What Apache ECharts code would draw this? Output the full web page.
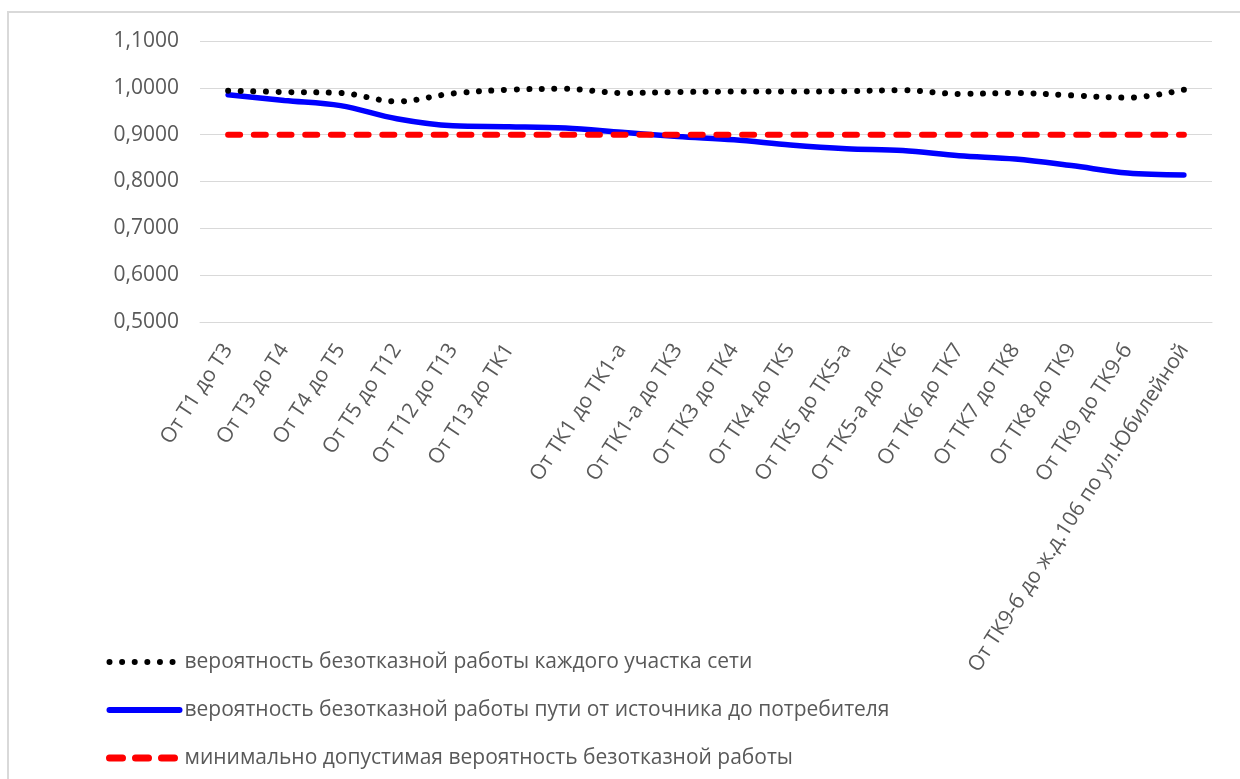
<!DOCTYPE html>
<html>
<head>
<meta charset="utf-8">
<script src="https://cdn.jsdelivr.net/npm/echarts@6/dist/echarts.min.js"></script>
<style>
  html, body { margin: 0; padding: 0; background: #fff; }
  #frame { position: absolute; left: 7px; top: 11px; width: 1240px; height: 780px;
           border-top: 2px solid #d9d9d9; border-left: 2px solid #d9d9d9; }
  #chart { position: absolute; left: 0; top: 0; width: 1240px; height: 779px; }
</style>
</head>
<body>
<div id="frame"></div>
<div id="chart"></div>
<script>
var categories = [
  'От Т1 до Т3', 'От Т3 до Т4', 'От Т4 до Т5', 'От Т5 до Т12', 'От Т12 до Т13',
  'От Т13 до ТК1', '', 'От ТК1 до ТК1-а', 'От ТК1-а до ТК3', 'От ТК3 до ТК4',
  'От ТК4 до ТК5', 'От ТК5 до ТК5-а', 'От ТК5-а до ТК6', 'От ТК6 до ТК7',
  'От ТК7 до ТК8', 'От ТК8 до ТК9', 'От ТК9 до ТК9-б',
  'От ТК9-б до ж.д.106 по ул.Юбилейной'
];
var sectionValues = [0.994, 0.991, 0.989, 0.971, 0.988, 0.996, 0.998, 0.989, 0.991,
  0.992, 0.992, 0.993, 0.995, 0.987, 0.989, 0.984, 0.979, 0.996];
var pathValues = [0.985, 0.973, 0.962, 0.934, 0.919, 0.917, 0.914, 0.905, 0.896,
  0.889, 0.878, 0.870, 0.866, 0.855, 0.848, 0.834, 0.818, 0.814];
var minValues = [0.9, 0.9, 0.9, 0.9, 0.9, 0.9, 0.9, 0.9, 0.9,
  0.9, 0.9, 0.9, 0.9, 0.9, 0.9, 0.9, 0.9, 0.9];
var seriesNames = [
  'вероятность безотказной работы каждого участка сети',
  'вероятность безотказной работы пути от источника до потребителя',
  'минимально допустимая вероятность безотказной работы'
];

var textColor = '#595959';
var fontName = 'Open Sans';

var dotStyle = { color: '#000000', width: 6, type: [0.01, 12.6], cap: 'round' };
var pathStyle = { color: '#0000ff', width: 5.5, cap: 'round' };
var minStyle = { color: '#ff0000', width: 6, type: [12, 13.7], cap: 'round' };

var myChart = echarts.init(document.getElementById('chart'), null, { renderer: 'canvas' });

var option = {
  backgroundColor: 'transparent',
  animation: false,
  grid: {
    left: 200,
    right: 28,
    top: 41,
    bottom: 457
  },
  legend: {
    orient: 'vertical',
    left: 106,
    top: 650,
    padding: 0,
    itemWidth: 70,
    itemHeight: 24,
    itemGap: 24,
    itemStyle: { opacity: 0 },
    textStyle: {
      color: textColor,
      fontFamily: fontName,
      fontSize: 21,
      lineHeight: 24
    },
    data: [
      { name: seriesNames[0], lineStyle: { width: 6, type: [0.01, 12.6], cap: 'round', color: '#000' } },
      { name: seriesNames[1], lineStyle: { width: 6, cap: 'round', color: '#0000ff' } },
      { name: seriesNames[2], lineStyle: { width: 7, type: [13, 13], cap: 'round', color: '#ff0000' } }
    ]
  },
  xAxis: {
    type: 'category',
    data: categories,
    boundaryGap: true,
    axisLine: { lineStyle: { color: '#d9d9d9', width: 1 } },
    axisTick: { show: false },
    axisLabel: {
      interval: 0,
      rotate: 57,
      margin: 24,
      color: textColor,
      fontFamily: fontName,
      fontSize: 21
    }
  },
  yAxis: {
    type: 'value',
    min: 0.5,
    max: 1.1,
    interval: 0.1,
    axisLine: { show: false },
    axisTick: { show: false },
    splitLine: { lineStyle: { color: '#d9d9d9', width: 1 } },
    axisLabel: {
      margin: 21,
      color: textColor,
      fontFamily: fontName,
      fontSize: 21,
      formatter: function (v) {
        return v.toFixed(4).replace('.', ',');
      }
    }
  },
  series: [
    {
      name: seriesNames[0],
      type: 'line',
      data: sectionValues,
      smooth: 0.35,
      symbol: 'none',
      z: 3,
      lineStyle: dotStyle,
      itemStyle: { color: '#000000' }
    },
    {
      name: seriesNames[1],
      type: 'line',
      data: pathValues,
      smooth: 0.35,
      symbol: 'none',
      z: 2,
      lineStyle: pathStyle,
      itemStyle: { color: '#0000ff' }
    },
    {
      name: seriesNames[2],
      type: 'line',
      data: minValues,
      symbol: 'none',
      z: 4,
      lineStyle: minStyle,
      itemStyle: { color: '#ff0000' }
    }
  ]
};

myChart.setOption(option);
</script>
</body>
</html>
